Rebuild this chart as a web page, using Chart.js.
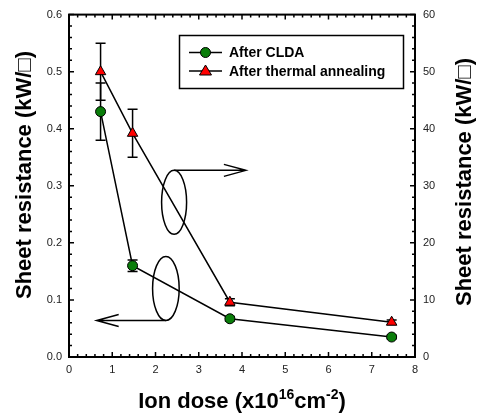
<!DOCTYPE html>
<html>
<head>
<meta charset="utf-8">
<script src="https://cdn.jsdelivr.net/npm/chart.js@4"></script>
<style>html,body{margin:0;padding:0;background:#fff}</style>
</head>
<body>
<canvas id="canvas" width="478" height="419"></canvas>
<script>
// ion dose (x10^16 cm^-2)
let doses = [0.73, 1.47, 3.72, 7.46];

// sheet resistance after CLDA (left axis)
let clda    = [0.43, 0.16, 0.067, 0.035];
let cldaErr = [0.05, 0.01, 0.004, 0.003];

// sheet resistance after thermal annealing (right axis)
let anneal    = [50, 39.2, 9.6, 6.1];
let annealErr = [5, 4.2, 0.6, 0.4];

// tick labels
let xTicks     = [0, 1, 2, 3, 4, 5, 6, 7, 8];
let leftTicks  = [0, 0.1, 0.2, 0.3, 0.4, 0.5, 0.6];
let rightTicks = [0, 10, 20, 30, 40, 50, 60];

let labels = ['After CLDA', 'After thermal annealing'];

// ellipse + arrow callouts, in data units of x / left y
let callouts = [
  { x: 2.43, y: 0.271, rx: 12.5, ry: 32, side: 'top',    to: 4.09 },
  { x: 2.24, y: 0.120, rx: 13.3, ry: 32, side: 'bottom', to: 0.64 }
];

const tickFont = { family: 'Arial, "Liberation Sans", sans-serif', size: 11 };
const bold = (s) => 'bold ' + s + 'px Arial, "Liberation Sans", sans-serif';

function setTicks(list) {
  return (scale) => { scale.ticks = list.map(v => ({ value: v })); };
}

// draw a triangle / circle marker like the chart's points
function marker(ctx, type, x, y) {
  ctx.save();
  ctx.lineWidth = 1;
  ctx.strokeStyle = '#000';
  ctx.beginPath();
  if (type === 'circle') {
    ctx.fillStyle = '#0a7d0a';
    ctx.arc(x, y, 5, 0, Math.PI * 2);
  } else {
    ctx.fillStyle = '#ff0000';
    ctx.moveTo(x, y - 6);
    ctx.lineTo(x + 6, y + 4);
    ctx.lineTo(x - 6, y + 4);
    ctx.closePath();
  }
  ctx.fill();
  ctx.stroke();
  ctx.restore();
}

let extras = {
  id: 'extras',
  beforeDatasetsDraw(chart) {
    let ctx = chart.ctx;
    let xs = chart.scales.x, yl = chart.scales.y, yr = chart.scales.y2;
    ctx.save();
    ctx.strokeStyle = '#000';
    ctx.lineWidth = 1.5;
    // error bars
    let bars = [[clda, cldaErr, yl], [anneal, annealErr, yr]];
    bars.forEach(([vals, errs, ys]) => {
      vals.forEach((v, i) => {
        let px = xs.getPixelForValue(doses[i]);
        let top = ys.getPixelForValue(v + errs[i]);
        let bot = ys.getPixelForValue(v - errs[i]);
        ctx.beginPath();
        ctx.moveTo(px, top); ctx.lineTo(px, bot);
        ctx.moveTo(px - 5, top); ctx.lineTo(px + 5, top);
        ctx.moveTo(px - 5, bot); ctx.lineTo(px + 5, bot);
        ctx.stroke();
      });
    });
    // callouts
    callouts.forEach(c => {
      let cx = xs.getPixelForValue(c.x), cy = yl.getPixelForValue(c.y);
      ctx.beginPath();
      ctx.ellipse(cx, cy, c.rx, c.ry, 0, 0, Math.PI * 2);
      ctx.stroke();
      let ay = c.side === 'top' ? cy - c.ry : cy + c.ry;
      let ax = xs.getPixelForValue(c.to);
      let dir = ax > cx ? 1 : -1;
      ctx.beginPath();
      ctx.moveTo(cx, ay); ctx.lineTo(ax, ay);
      ctx.moveTo(ax - dir * 22, ay - 6); ctx.lineTo(ax, ay); ctx.lineTo(ax - dir * 22, ay + 6);
      ctx.stroke();
    });
    ctx.restore();
  },
  afterDraw(chart) {
    let ctx = chart.ctx;
    let a = chart.chartArea;
    let xs = chart.scales.x, yl = chart.scales.y, yr = chart.scales.y2;
    ctx.save();
    ctx.strokeStyle = '#000';

    // inward ticks on all four sides
    ctx.lineWidth = 1.5;
    ctx.beginPath();
    for (let k = 0; k <= 40; k++) {
      let px = xs.getPixelForValue(k * 0.2);
      let len = k % 5 === 0 ? 5 : 3;
      ctx.moveTo(px, a.bottom); ctx.lineTo(px, a.bottom - len);
      ctx.moveTo(px, a.top); ctx.lineTo(px, a.top + len);
    }
    for (let k = 0; k <= 30; k++) {
      let py = yl.getPixelForValue(k * 0.02);
      let len = k % 5 === 0 ? 5 : 3;
      ctx.moveTo(a.left, py); ctx.lineTo(a.left + len, py);
      let pr = yr.getPixelForValue(k * 2);
      ctx.moveTo(a.right, pr); ctx.lineTo(a.right - len, pr);
    }
    ctx.stroke();

    // frame
    ctx.lineWidth = 2;
    ctx.strokeRect(a.left, a.top, a.right - a.left, a.bottom - a.top);

    // legend
    ctx.lineWidth = 1.5;
    ctx.strokeRect(179.5, 35.5, 224, 53);
    ctx.fillStyle = '#000';
    ctx.font = bold(14);
    ctx.textBaseline = 'middle';
    ctx.textAlign = 'left';
    [['circle', 52.5], ['triangle', 71]].forEach(([type, ly], i) => {
      ctx.beginPath();
      ctx.moveTo(189, ly); ctx.lineTo(222, ly);
      ctx.stroke();
      marker(ctx, type, 205.5, ly);
      ctx.fillStyle = '#000';
      ctx.fillText(labels[i], 229, ly + 1);
    });

    // y titles
    ctx.font = bold(22);
    ctx.textAlign = 'center';
    [[25, 175], [465, 182]].forEach(([tx, ty]) => {
      ctx.save();
      ctx.translate(tx, ty);
      ctx.rotate(-Math.PI / 2);
      ctx.fillText('Sheet resistance (kW/\u25A1)', 0, 0);
      ctx.restore();
    });

    // x title with superscripts
    let parts = [['Ion dose (x10', 22, 0], ['16', 14, -9], ['cm', 22, 0], ['-2', 14, -9], [')', 22, 0]];
    let total = 0;
    parts.forEach(p => { ctx.font = bold(p[1]); total += ctx.measureText(p[0]).width; });
    let tx = (a.left + a.right) / 2 - total / 2;
    ctx.textAlign = 'left';
    ctx.textBaseline = 'alphabetic';
    parts.forEach(p => {
      ctx.font = bold(p[1]);
      ctx.fillText(p[0], tx, 408 + p[2]);
      tx += ctx.measureText(p[0]).width;
    });
    ctx.restore();
  }
};

let options = {
  type: 'line',
  data: {
    datasets: [{
      label: labels[0],
      data: doses.map((d, i) => ({ x: d, y: clda[i] })),
      yAxisID: 'y',
      borderColor: '#000',
      borderWidth: 1.5,
      pointStyle: 'circle',
      pointRadius: 5,
      pointBackgroundColor: '#0a7d0a',
      pointBorderColor: '#000',
      pointBorderWidth: 1
    }, {
      label: labels[1],
      data: doses.map((d, i) => ({ x: d, y: anneal[i] })),
      yAxisID: 'y2',
      borderColor: '#000',
      borderWidth: 1.5,
      pointStyle: 'triangle',
      pointRadius: 6,
      pointBackgroundColor: '#ff0000',
      pointBorderColor: '#000',
      pointBorderWidth: 1
    }]
  },
  options: {
    responsive: false,
    animation: false,
    devicePixelRatio: 1,
    layout: { padding: { top: 12, left: 0, right: 0, bottom: 0 } },
    plugins: { legend: { display: false }, tooltip: { enabled: false } },
    scales: {
      x: {
        type: 'linear', min: 0, max: 8,
        afterBuildTicks: setTicks(xTicks),
        afterFit: s => { s.height = 62; },
        ticks: { font: tickFont, color: '#222', padding: 6, maxRotation: 0 },
        grid: { display: false, drawTicks: false },
        border: { display: false }
      },
      y: {
        position: 'left', min: 0, max: 0.6,
        afterBuildTicks: setTicks(leftTicks),
        afterFit: s => { s.width = 69; },
        ticks: { font: tickFont, color: '#222', padding: 7, callback: v => v.toFixed(1) },
        grid: { display: false, drawTicks: false },
        border: { display: false }
      },
      y2: {
        position: 'right', min: 0, max: 60,
        afterBuildTicks: setTicks(rightTicks),
        afterFit: s => { s.width = 63; },
        ticks: { font: tickFont, color: '#222', padding: 8 },
        grid: { display: false, drawTicks: false },
        border: { display: false }
      }
    }
  },
  plugins: [extras]
};

let chart = new Chart(document.getElementById('canvas'), options);
</script>
</body>
</html>
